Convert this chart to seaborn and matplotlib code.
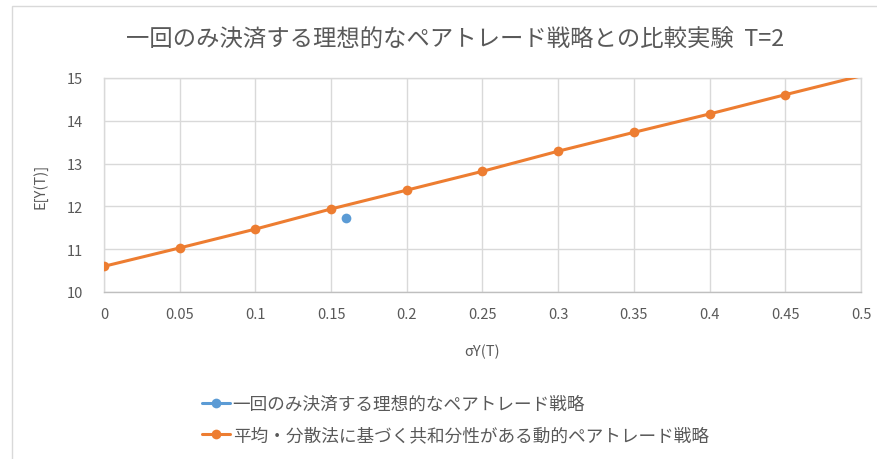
import matplotlib
matplotlib.use("Agg")
import matplotlib.pyplot as plt
import seaborn as sns
import pandas as pd
from matplotlib.lines import Line2D
from matplotlib.patches import Rectangle

# ---- data ----
title = "一回のみ決済する理想的なペアトレード戦略との比較実験  T=2"
series_ideal = "一回のみ決済する理想的なペアトレード戦略"
series_dyn = "平均・分散法に基づく共和分性がある動的ペアトレード戦略"
ideal_x = [0.16]
ideal_y = [11.72]
dyn_x = [0, 0.05, 0.1, 0.15, 0.2, 0.25, 0.3, 0.35, 0.4, 0.45, 0.5]
dyn_y = [10.6, 11.03, 11.47, 11.94, 12.38, 12.82, 13.29, 13.73, 14.16, 14.61, 15.05]
x_ticks = [0, 0.05, 0.1, 0.15, 0.2, 0.25, 0.3, 0.35, 0.4, 0.45, 0.5]
x_tick_labels = ["0", "0.05", "0.1", "0.15", "0.2", "0.25", "0.3", "0.35", "0.4", "0.45", "0.5"]
y_ticks = [10, 11, 12, 13, 14, 15]
x_label = "σY(T)"
y_label = "E[Y(T)]"

sns.set_theme(style="white")
plt.rcParams['font.family'] = ['Noto Sans CJK JP', 'DejaVu Sans']

BLUE = "#5B9BD5"
ORANGE = "#ED7D31"
GRID = "#D9D9D9"
TXT = "#595959"

fig = plt.figure(figsize=(8.78, 4.6), dpi=100)
fig.patch.set_facecolor("white")
# chart border
fig.patches.append(Rectangle((12/878, -0.1), 1.2, 1 - 7/460 + 0.1, transform=fig.transFigure,
                             fill=False, edgecolor="#D9D9D9", linewidth=1.0))

ax = fig.add_axes([104/878, 1 - 293/460, (861 - 104)/878, (293 - 79)/460])

df_dyn = pd.DataFrame({"x": dyn_x, "y": dyn_y})
df_ideal = pd.DataFrame({"x": ideal_x, "y": ideal_y})

sns.lineplot(data=df_dyn, x="x", y="y", ax=ax, color=ORANGE, linewidth=2.2,
             marker="o", markersize=7, markeredgewidth=0, markevery=slice(0, 10), zorder=3)
sns.lineplot(data=df_ideal, x="x", y="y", ax=ax, color=BLUE, linewidth=2.2,
             marker="o", markersize=7, markeredgewidth=0, zorder=4)

ax.set_xlim(0, 0.5)
ax.set_ylim(10, 15)
ax.set_xticks(x_ticks)
ax.set_xticklabels(x_tick_labels)
ax.set_yticks(y_ticks)
ax.grid(True, color=GRID, linewidth=1.0)
for s in ax.spines.values():
    s.set_color(GRID)
    s.set_linewidth(1.0)
ax.spines["bottom"].set_color("#BFBFBF")
ax.tick_params(axis="both", colors=TXT, labelsize=10.5, length=0)
ax.tick_params(axis="x", pad=11)
ax.tick_params(axis="y", pad=15)
ax.set_xlabel(x_label, color=TXT, fontsize=10.5, labelpad=16)
ax.set_ylabel(y_label, color=TXT, fontsize=10.5, labelpad=14)

fig.text(455/878, 1 - 40/460, title, ha="center", va="center", fontsize=16.8, color=TXT)

handles = [
    Line2D([0], [0], color=BLUE, linewidth=2.2, marker="o", markersize=7, markeredgewidth=0),
    Line2D([0], [0], color=ORANGE, linewidth=2.2, marker="o", markersize=7, markeredgewidth=0),
]
fig.legend(handles, [series_ideal, series_dyn], loc="upper left",
           bbox_to_anchor=(186/878, 1 - 380/460), frameon=False, fontsize=12.7,
           labelcolor=TXT, handlelength=1.6, handletextpad=0.15, labelspacing=0.75)

fig.savefig("out.png", dpi=100, facecolor="white")
